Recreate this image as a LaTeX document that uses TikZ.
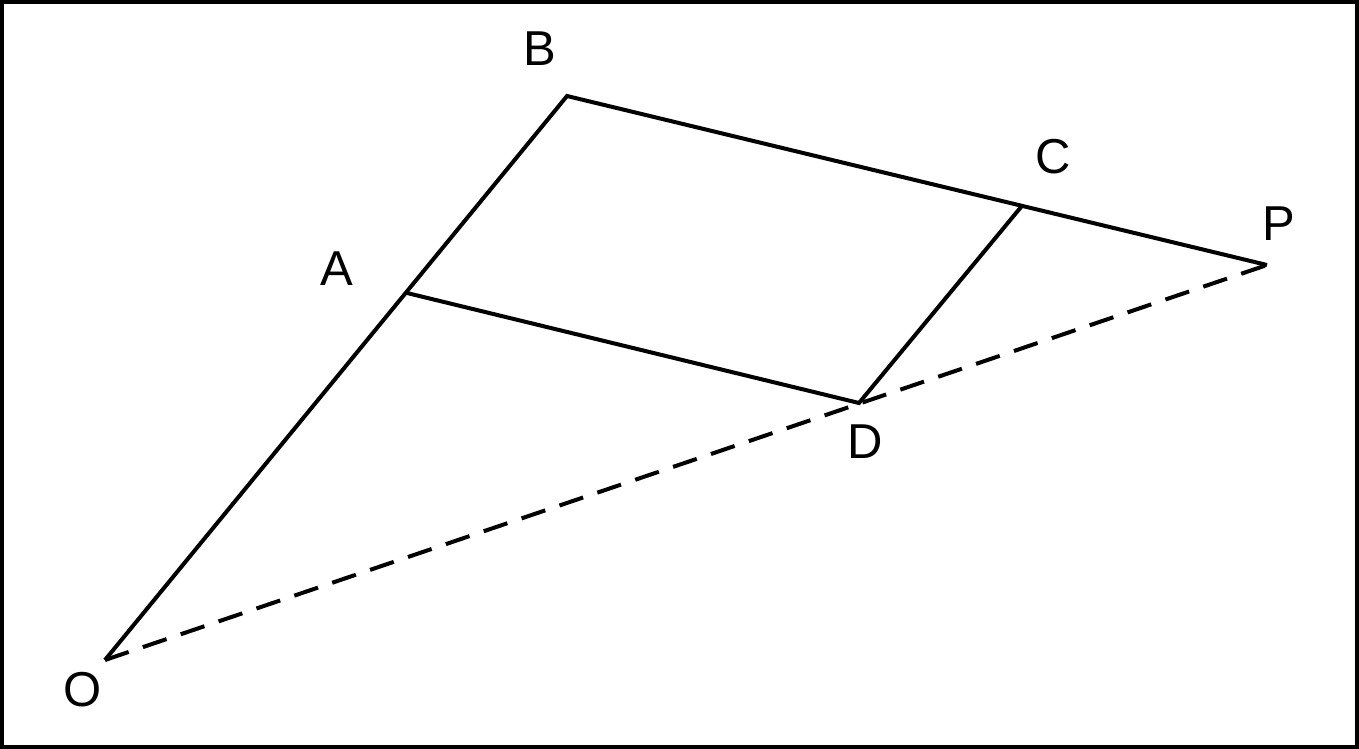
\documentclass[tikz,border=0pt]{standalone}
\usepackage{fontspec}
\setmainfont{Liberation Sans}
\begin{document}
\begin{tikzpicture}[x=1pt,y=-1pt,
  seg/.style={line width=4pt, line cap=butt, line join=miter},
  dashseg/.style={line width=4pt, dash pattern=on 25pt off 15pt},
  lbl/.style={inner sep=0pt, font=\fontsize{49}{49}\selectfont}]
\useasboundingbox (0,0) rectangle (1359,749);
\draw[line width=4pt] (2,2) rectangle (1357,747);
\coordinate (O) at (105,660);
\coordinate (B) at (567,96);
\coordinate (A) at (407,293);
\coordinate (C) at (1021,207);
\coordinate (P) at (1267,265);
\coordinate (D) at (859,403);
\draw[seg] (O) -- (B) -- (P);
\draw[seg] (A) -- (D) -- (C);
\draw[dashseg] (O) -- (P);
\node[lbl] (lB) at (540,49) {B};
\node[lbl] (lC) at (1053,157) {C};
\node[lbl] (lP) at (1279,224) {P};
\node[lbl] (lA) at (337,269) {A};
\node[lbl] (lD) at (865,442) {D};
\node[lbl] (lO) at (83,690) {O};
\end{tikzpicture}
\end{document}
